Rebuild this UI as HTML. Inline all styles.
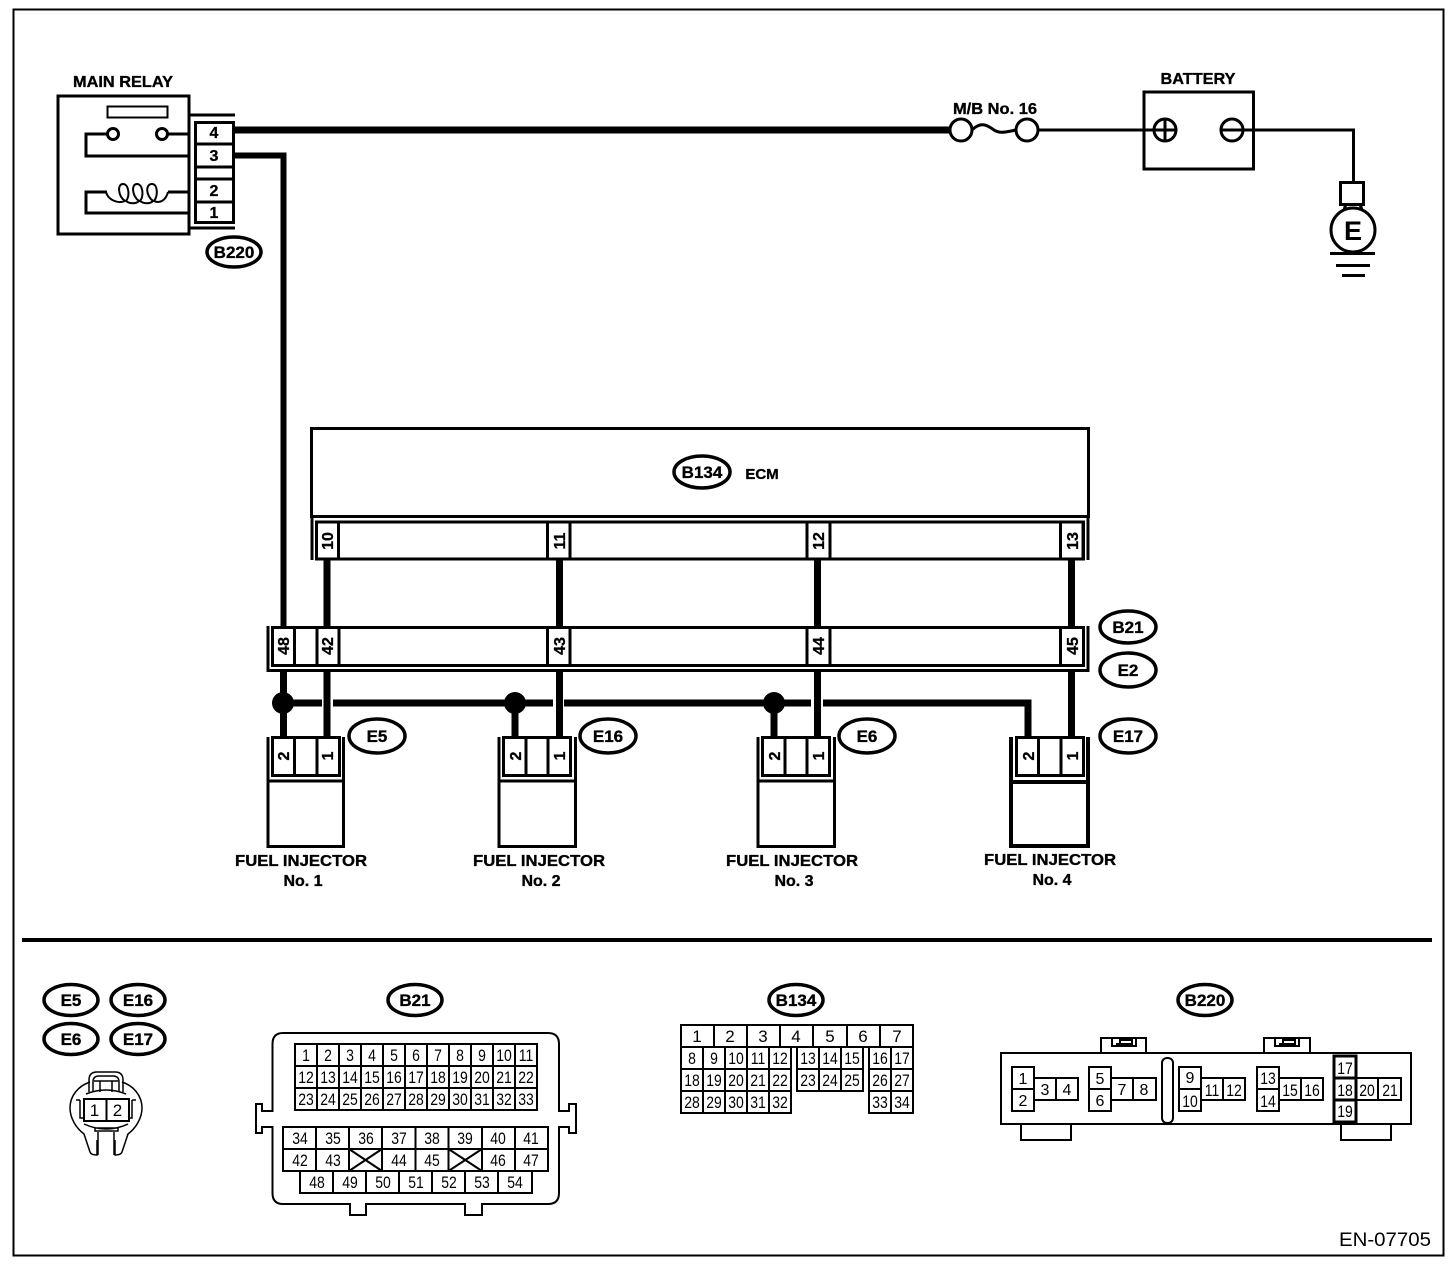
<!DOCTYPE html>
<html>
<head>
<meta charset="utf-8">
<style>
html,body{margin:0;padding:0;background:#fff;}
svg{display:block;}
text{font-family:"Liberation Sans",sans-serif;fill:#000;text-anchor:middle;}
.b{font-weight:bold;font-size:16px;stroke:#000;stroke-width:.35px;}
.p{font-weight:bold;font-size:16px;stroke:#000;stroke-width:.3px;}
.o{font-weight:bold;font-size:17px;stroke:#000;stroke-width:.35px;}
.n{font-size:14px;}
.n text{transform-box:fill-box;transform-origin:center;transform:scaleY(1.2);}
.m{font-size:17px;}
.l{fill:none;stroke:#000;stroke-width:3;}
.t{fill:none;stroke:#000;stroke-width:2;}
.w{fill:none;stroke:#000;stroke-width:7;}
ellipse.ov{fill:#fff;stroke:#000;stroke-width:3.5;}
</style>
</head>
<body>
<svg width="1456" height="1268" viewBox="0 0 1456 1268" xmlns="http://www.w3.org/2000/svg">
<rect width="1456" height="1268" fill="#fff"/>
<rect x="13.5" y="9.5" width="1430" height="1246" class="t"/>

<!-- Main relay -->
<text class="b" x="123" y="87" textLength="100" lengthAdjust="spacingAndGlyphs">MAIN RELAY</text>
<rect x="58" y="96" width="131" height="138" class="l"/>
<rect x="107.500" y="106.500" width="60" height="11" class="t"/>
<path class="l" d="M108 134H86V156H190M168 134H190M107 192H86V213H190M168 192H190"/>
<circle cx="113" cy="134" r="5.500" fill="#fff" stroke="#000" stroke-width="3"/>
<circle cx="162" cy="134" r="5.500" fill="#fff" stroke="#000" stroke-width="3"/>
<path class="t" d="M106 192C108 200 118 204 125 201C118 196 117 184 123 184C129 184 130 196 126 201C130 204 136 204 139 201C132 196 131 184 137 184C143 184 144 196 140 201C144 204 150 204 153 201C146 196 145 184 152 184C158 184 158 196 154 201C160 204 166 200 168 192"/>
<path class="l" d="M190 115H235M190 228H235"/>
<rect x="195.500" y="122.500" width="38" height="100" class="l"/>
<path class="l" d="M195 144H234M195 167H234M195 179H234M195 202H234"/>
<text class="p" x="214" y="138">4</text>
<text class="p" x="214" y="161">3</text>
<text class="p" x="214" y="196">2</text>
<text class="p" x="214" y="218">1</text>
<ellipse class="ov" cx="234" cy="252" rx="27" ry="15"/>
<text class="o" x="234" y="258">B220</text>

<!-- Main wires -->
<path class="w" d="M233 130H950"/>
<path d="M233 155.500H283.500V627" fill="none" stroke="#000" stroke-width="6"/>

<!-- Fuse -->
<text class="b" x="995" y="114" textLength="84" lengthAdjust="spacingAndGlyphs">M/B No. 16</text>
<circle cx="961" cy="130" r="11" fill="#fff" stroke="#000" stroke-width="3"/>
<circle cx="1027" cy="130" r="11" fill="#fff" stroke="#000" stroke-width="3"/>
<path class="l" d="M972 130C980 122 986 124 994 130C1000 134 1006 132 1016 130"/>
<path class="l" d="M1038 130H1154"/>

<!-- Battery -->
<text class="b" x="1198" y="84" textLength="75" lengthAdjust="spacingAndGlyphs">BATTERY</text>
<rect x="1144" y="92" width="109.500" height="77" class="l"/>
<circle cx="1165" cy="130" r="11" fill="#fff" stroke="#000" stroke-width="3"/>
<path class="l" d="M1154 130H1176M1165 119V141"/>
<circle cx="1232" cy="130" r="11" fill="#fff" stroke="#000" stroke-width="3"/>
<path class="l" d="M1221 130H1243M1243 130H1353.500V182"/>
<rect x="1340.500" y="182.500" width="23" height="22" class="l"/>
<circle cx="1353" cy="230" r="22" fill="#fff" stroke="#000" stroke-width="3"/>
<path class="l" d="M1346 204L1344 210M1360 204L1362 210M1330 253.500H1375M1336 265.500H1370M1342 275.500H1365"/>
<text x="1353" y="240" style="font-weight:bold;font-size:27px">E</text>

<!-- ECM -->
<rect x="311.500" y="428.500" width="777" height="88" class="l"/>
<path class="l" d="M312 516V560M1088 516V560"/>
<rect x="316.500" y="522" width="767" height="37" class="l"/>
<path class="l" d="M316.500 522V559M338.500 522V559M547.500 522V559M570 522V559M807 522V559M830 522V559M1060.500 522V559M1083 522V559"/>
<ellipse class="ov" cx="702" cy="472" rx="28" ry="16"/>
<text class="o" x="702" y="478">B134</text>
<text class="o" x="762" y="479" style="font-size:15px">ECM</text>
<text class="p" transform="translate(333,541) rotate(-90)">10</text>
<text class="p" transform="translate(565,541) rotate(-90)">11</text>
<text class="p" transform="translate(824,541) rotate(-90)">12</text>
<text class="p" transform="translate(1078,541) rotate(-90)">13</text>

<!-- Vertical wires -->
<path class="w" d="M327 559V627M559.500 559V627M817.500 559V627M1071.500 559V627"/>

<!-- Inline connector -->
<path class="l" d="M268 626V670.500H1088V626"/>
<rect x="272.500" y="627.500" width="811" height="38" class="l"/>
<path class="l" d="M294.500 627V666M317 627V666M339 627V666M547.500 627V666M570 627V666M807 627V666M830 627V666M1060.500 627V666"/>
<text class="p" transform="translate(289,646) rotate(-90)">48</text>
<text class="p" transform="translate(333,646) rotate(-90)">42</text>
<text class="p" transform="translate(565,646) rotate(-90)">43</text>
<text class="p" transform="translate(824,646) rotate(-90)">44</text>
<text class="p" transform="translate(1078,646) rotate(-90)">45</text>
<ellipse class="ov" cx="1128" cy="627" rx="28" ry="16"/>
<text class="o" x="1128" y="633">B21</text>
<ellipse class="ov" cx="1128" cy="670" rx="28" ry="17"/>
<text class="o" x="1128" y="676">E2</text>

<!-- Bus and drops -->
<path class="w" d="M283.500 670V737M327 670V737M559.500 670V737M817.500 670V737M1071.500 670V737"/>
<path class="w" d="M283.500 703H322M333 703H553M564 703H811M823 703H1028V737"/>
<path class="w" d="M515 703V737M774 703V737"/>
<circle cx="283" cy="703" r="11"/>
<circle cx="515" cy="703" r="11"/>
<circle cx="774" cy="703" r="11"/>

<!-- Injector 1 -->
<path class="l" d="M268 737V846.500H343.500V737M268 781H343.500"/>
<rect x="272.500" y="737.500" width="67" height="38" class="l"/>
<path class="l" d="M294.500 737V776M317 737V776"/>
<text class="p" transform="translate(289,756) rotate(-90)">2</text>
<text class="p" transform="translate(333,756) rotate(-90)">1</text>
<ellipse class="ov" cx="377" cy="736" rx="28" ry="17"/>
<text class="o" x="377" y="742">E5</text>
<text class="b" x="301" y="866" textLength="132" lengthAdjust="spacingAndGlyphs">FUEL INJECTOR</text>
<text class="b" x="303" y="886">No. 1</text>

<!-- Injector 2 -->
<path class="l" d="M499 737V846.500H575.500V737M499 781H575.500"/>
<rect x="503.500" y="737.500" width="67" height="38" class="l"/>
<path class="l" d="M526 737V776M548 737V776"/>
<text class="p" transform="translate(521,756) rotate(-90)">2</text>
<text class="p" transform="translate(565,756) rotate(-90)">1</text>
<ellipse class="ov" cx="608" cy="736" rx="28" ry="17"/>
<text class="o" x="608" y="742">E16</text>
<text class="b" x="539" y="866" textLength="132" lengthAdjust="spacingAndGlyphs">FUEL INJECTOR</text>
<text class="b" x="541" y="886">No. 2</text>

<!-- Injector 3 -->
<path class="l" d="M758 737V846.500H834.500V737M758 781H834.500"/>
<rect x="762.500" y="737.500" width="67" height="38" class="l"/>
<path class="l" d="M785 737V776M807 737V776"/>
<text class="p" transform="translate(780,756) rotate(-90)">2</text>
<text class="p" transform="translate(824,756) rotate(-90)">1</text>
<ellipse class="ov" cx="867" cy="736" rx="28" ry="17"/>
<text class="o" x="867" y="742">E6</text>
<text class="b" x="792" y="866" textLength="132" lengthAdjust="spacingAndGlyphs">FUEL INJECTOR</text>
<text class="b" x="794" y="886">No. 3</text>

<!-- Injector 4 -->
<path d="M1011 737V846H1088V737M1011 782H1088" fill="none" stroke="#000" stroke-width="4"/>
<rect x="1016.500" y="737.500" width="67" height="38" class="l"/>
<path class="l" d="M1038.500 737V776M1061 737V776"/>
<text class="p" transform="translate(1034,756) rotate(-90)">2</text>
<text class="p" transform="translate(1078,756) rotate(-90)">1</text>
<ellipse class="ov" cx="1128" cy="736" rx="28" ry="17"/>
<text class="o" x="1128" y="742">E17</text>
<text class="b" x="1050" y="865" textLength="132" lengthAdjust="spacingAndGlyphs">FUEL INJECTOR</text>
<text class="b" x="1052" y="885">No. 4</text>

<!-- Divider -->
<path d="M22 940H1432" stroke="#000" stroke-width="4"/>

<!-- Bottom ovals -->
<ellipse class="ov" cx="71" cy="1000" rx="27" ry="15.500"/><text class="o" x="71" y="1006">E5</text>
<ellipse class="ov" cx="138" cy="1000" rx="27" ry="15.500"/><text class="o" x="138" y="1006">E16</text>
<ellipse class="ov" cx="71" cy="1039" rx="27" ry="15.500"/><text class="o" x="71" y="1045">E6</text>
<ellipse class="ov" cx="138" cy="1039" rx="27" ry="15.500"/><text class="o" x="138" y="1045">E17</text>
<ellipse class="ov" cx="415" cy="1000" rx="27" ry="15.500"/><text class="o" x="415" y="1006">B21</text>
<ellipse class="ov" cx="796" cy="1000" rx="27" ry="15.500"/><text class="o" x="796" y="1006">B134</text>
<ellipse class="ov" cx="1205" cy="1000" rx="27" ry="15.500"/><text class="o" x="1205" y="1006">B220</text>

<!-- Small connector -->
<g fill="none" stroke="#000" stroke-width="1.500">
<path d="M90 1082C78 1086 70 1096 70 1108C70 1118 76 1128 84 1134L90 1152Q91 1155 97 1155V1140M122 1082C134 1086 142 1096 142 1108C142 1118 136 1128 128 1134L122 1152Q121 1155 115 1155V1140"/>
<path d="M89 1092V1080Q89 1072 97 1072H115Q123 1072 123 1080V1092M93 1092V1082Q93 1076 99 1076H113Q119 1076 119 1082V1092M94 1081H118M100 1081V1092M112 1081V1092"/>
<path d="M80 1100V1118H83M132 1100V1118H129M76 1100H80M132 1100H136M86 1094Q106 1086 126 1094M84 1124Q106 1134 128 1124M95 1128H118V1131H95Z"/>
<path d="M98 1132V1155M114 1132V1155"/>
</g>
<rect x="84" y="1099" width="45" height="22" fill="#fff" stroke="#000" stroke-width="2"/>
<path d="M106.500 1099V1121" stroke="#000" stroke-width="2"/>
<text class="m" x="94.500" y="1116">1</text>
<text class="m" x="117.500" y="1116">2</text>

<!-- B21 connector -->
<path class="t" d="M283 1033H548Q559 1033 559 1044V1111H569V1104H576V1133H569V1127H559V1193Q559 1204 548 1204H482V1215H465V1204H366V1215H350V1204H283Q272.500 1204 272.500 1193V1127H262V1133H256V1104H262V1111H272.500V1044Q272.500 1033 283 1033Z"/>
<g class="t">
<rect x="295" y="1044" width="242" height="66"/>
<path d="M295 1066H537M295 1088H537M317 1044V1110M339 1044V1110M361 1044V1110M383 1044V1110M405 1044V1110M427 1044V1110M449 1044V1110M471 1044V1110M493 1044V1110M515 1044V1110"/>
<rect x="283" y="1127" width="265" height="44"/>
<path d="M283 1149H548M316 1127V1171M349 1127V1171M382 1127V1171M415.500 1127V1171M448.500 1127V1171M482 1127V1171M515 1127V1171"/>
<path d="M349 1149L382 1171M382 1149L349 1171M448.500 1149L482 1171M482 1149L448.500 1171"/>
<rect x="300" y="1171" width="232" height="22"/>
<path d="M333 1171V1193M366 1171V1193M399 1171V1193M432 1171V1193M465 1171V1193M498 1171V1193"/>
</g>
<g class="n">
<text x="306" y="1060">1</text><text x="328" y="1060">2</text><text x="350" y="1060">3</text><text x="372" y="1060">4</text><text x="394" y="1060">5</text><text x="416" y="1060">6</text><text x="438" y="1060">7</text><text x="460" y="1060">8</text><text x="482" y="1060">9</text><text x="504" y="1060">10</text><text x="526" y="1060">11</text>
<text x="306" y="1082">12</text><text x="328" y="1082">13</text><text x="350" y="1082">14</text><text x="372" y="1082">15</text><text x="394" y="1082">16</text><text x="416" y="1082">17</text><text x="438" y="1082">18</text><text x="460" y="1082">19</text><text x="482" y="1082">20</text><text x="504" y="1082">21</text><text x="526" y="1082">22</text>
<text x="306" y="1104">23</text><text x="328" y="1104">24</text><text x="350" y="1104">25</text><text x="372" y="1104">26</text><text x="394" y="1104">27</text><text x="416" y="1104">28</text><text x="438" y="1104">29</text><text x="460" y="1104">30</text><text x="482" y="1104">31</text><text x="504" y="1104">32</text><text x="526" y="1104">33</text>
<text x="300" y="1143">34</text><text x="333" y="1143">35</text><text x="366" y="1143">36</text><text x="399" y="1143">37</text><text x="432" y="1143">38</text><text x="465" y="1143">39</text><text x="498" y="1143">40</text><text x="531" y="1143">41</text>
<text x="300" y="1165">42</text><text x="333" y="1165">43</text><text x="399" y="1165">44</text><text x="432" y="1165">45</text><text x="498" y="1165">46</text><text x="531" y="1165">47</text>
<text x="317" y="1187">48</text><text x="350" y="1187">49</text><text x="383" y="1187">50</text><text x="416" y="1187">51</text><text x="449" y="1187">52</text><text x="482" y="1187">53</text><text x="515" y="1187">54</text>
</g>

<!-- B134 connector -->
<g class="t">
<rect x="681" y="1025" width="232" height="22"/>
<path d="M714 1025V1047M747 1025V1047M780 1025V1047M813 1025V1047M847 1025V1047M880 1025V1047"/>
<rect x="681" y="1047" width="110" height="66"/>
<path d="M681 1069H791M681 1091H791M703 1047V1113M725 1047V1113M747 1047V1113M769 1047V1113"/>
<rect x="797" y="1047" width="66" height="44"/>
<path d="M797 1069H863M819 1047V1091M841 1047V1091"/>
<rect x="869" y="1047" width="44" height="66"/>
<path d="M869 1069H913M869 1091H913M891 1047V1113"/>
</g>
<g class="m">
<text x="697" y="1042">1</text><text x="730" y="1042">2</text><text x="763" y="1042">3</text><text x="796" y="1042">4</text><text x="830" y="1042">5</text><text x="863" y="1042">6</text><text x="897" y="1042">7</text>
</g>
<g class="n">
<text x="692" y="1063">8</text><text x="714" y="1063">9</text><text x="736" y="1063">10</text><text x="758" y="1063">11</text><text x="780" y="1063">12</text><text x="808" y="1063">13</text><text x="830" y="1063">14</text><text x="852" y="1063">15</text><text x="880" y="1063">16</text><text x="902" y="1063">17</text>
<text x="692" y="1085">18</text><text x="714" y="1085">19</text><text x="736" y="1085">20</text><text x="758" y="1085">21</text><text x="780" y="1085">22</text><text x="808" y="1085">23</text><text x="830" y="1085">24</text><text x="852" y="1085">25</text><text x="880" y="1085">26</text><text x="902" y="1085">27</text>
<text x="692" y="1107">28</text><text x="714" y="1107">29</text><text x="736" y="1107">30</text><text x="758" y="1107">31</text><text x="780" y="1107">32</text><text x="880" y="1107">33</text><text x="902" y="1107">34</text>
</g>

<!-- B220 connector -->
<g class="t">
<rect x="1001" y="1053" width="410" height="71"/>
<path d="M1101 1053V1038H1146V1053M1264 1053V1038H1310V1053M1021 1124V1140H1071V1124M1341 1124V1140H1391V1124"/>
<path d="M1112 1038V1046H1136V1038M1116 1044H1132V1040H1120V1044M1275 1038V1046H1299V1038M1279 1044H1295V1040H1283V1044"/>
<rect x="1162" y="1058" width="11" height="65" rx="5"/>
<path d="M1012 1067H1034V1111H1012ZM1012 1089H1034M1034 1078H1078V1100H1034M1056 1078V1100"/>
<path d="M1089 1067H1111V1111H1089ZM1089 1089H1111M1111 1078H1156V1100H1111M1133 1078V1100"/>
<path d="M1179 1067H1201V1111H1179ZM1179 1089H1201M1201 1078H1245V1100H1201M1223 1078V1100"/>
<path d="M1257 1067H1279V1111H1257ZM1257 1089H1279M1279 1078H1323V1100H1279M1301 1078V1100"/>
<path d="M1356 1078H1401V1100H1356M1378 1078V1100"/>
</g>
<path class="l" d="M1334 1056H1356V1122H1334ZM1334 1078H1356M1334 1100H1356"/>
<g class="m" style="font-size:16px">
<text x="1023" y="1084">1</text><text x="1023" y="1106">2</text><text x="1045" y="1095">3</text><text x="1067" y="1095">4</text>
<text x="1100" y="1084">5</text><text x="1100" y="1106">6</text><text x="1122" y="1095">7</text><text x="1144" y="1095">8</text>
<text x="1190" y="1083">9</text>
</g>
<g class="n">
<text x="1190" y="1106">10</text><text x="1212" y="1095">11</text><text x="1234" y="1095">12</text>
<text x="1268" y="1083">13</text><text x="1268" y="1106">14</text><text x="1290" y="1095">15</text><text x="1312" y="1095">16</text>
<text x="1345" y="1073">17</text><text x="1345" y="1095">18</text><text x="1345" y="1116">19</text><text x="1367" y="1095">20</text><text x="1390" y="1095">21</text>
</g>

<text x="1385" y="1246" style="font-size:19px" textLength="92" lengthAdjust="spacingAndGlyphs">EN-07705</text>
</svg>
</body>
</html>
